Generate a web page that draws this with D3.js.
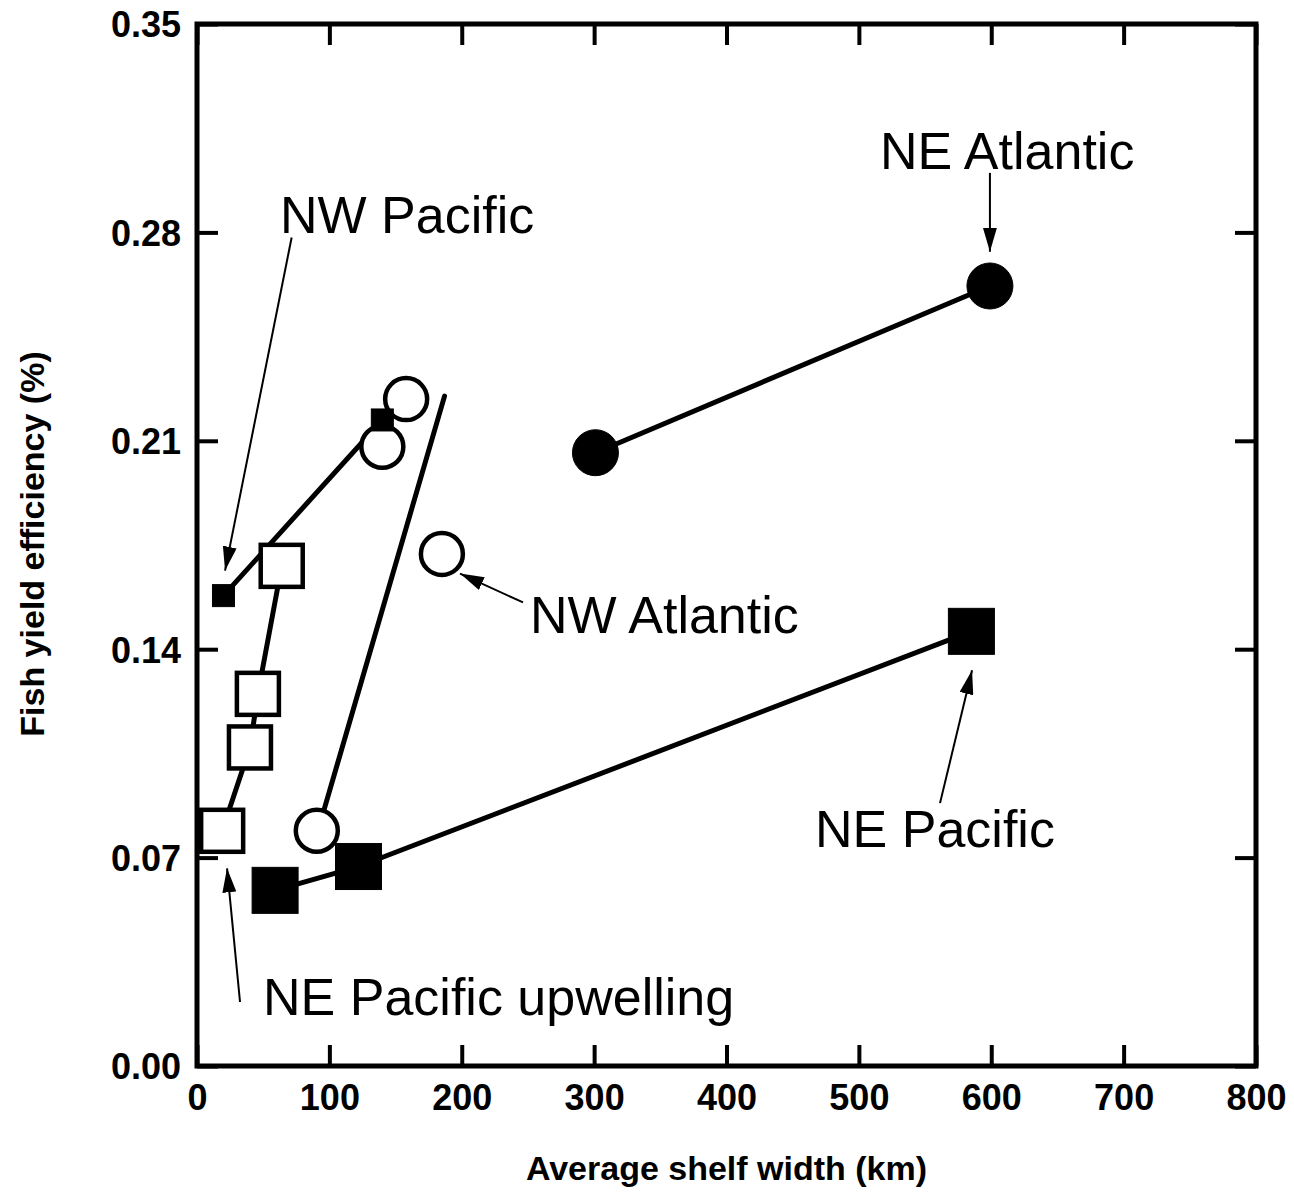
<!DOCTYPE html>
<html>
<head>
<meta charset="utf-8">
<script src="https://cdn.jsdelivr.net/npm/d3@7"></script>
<style>
html,body{margin:0;padding:0;background:#fff;}
svg{display:block;}
text{font-family:"Liberation Sans",Arial,Helvetica,sans-serif;fill:#000;}
</style>
</head>
<body>
<svg id="chart" width="1294" height="1194"></svg>
<script>
// ---- data (shelf width km, fish yield efficiency %) ----
const xTicks = [0,100,200,300,400,500,600,700,800];
const yTicks = [0,0.07,0.14,0.21,0.28,0.35];

const nwPacificX = [20,140];
const nwPacificY = [0.158,0.217];

const nePacUpwellingX = [19,40,46,64];
const nePacUpwellingY = [0.079,0.107,0.125,0.168];

const nwAtlanticX = [90.5,140,158,185];
const nwAtlanticY = [0.079,0.208,0.224,0.172];
const nwAtlanticFitX = [92,187];
const nwAtlanticFitY = [0.080,0.225];

const nePacificX = [59,122,585];
const nePacificY = [0.059,0.067,0.146];

const neAtlanticX = [301,599];
const neAtlanticY = [0.206,0.262];

// annotation labels: text, x, y (baseline), arrow from (x1,y1) to (x2,y2) in data units
const labelText = ["NW Pacific","NE Atlantic","NW Atlantic","NE Pacific","NE Pacific upwelling"];
const labelX = [62.7,516,251.6,466.9,49.9];
const labelY = [0.2799,0.3013,0.1453,0.0735,0.0171];
const arrowX1 = [71.5,599,246.3,561.3,32.5];
const arrowY1 = [0.2783,0.300,0.1557,0.0883,0.0215];
const arrowX2 = [21.2,599,198.7,585.5,22.7];
const arrowY2 = [0.1664,0.2735,0.1654,0.1329,0.0664];

const xTitle = "Average shelf width (km)";
const yTitle = "Fish yield efficiency (%)";

// ---- layout ----
const svg = d3.select("#chart");
const L = 197, R = 1256, T = 24, B = 1066;
const x = d3.scaleLinear().domain([0,800]).range([L,R]);
const y = d3.scaleLinear().domain([0,0.35]).range([B,T]);

const zip = (xs,ys)=>xs.map((v,i)=>[v,ys[i]]);
const line = d3.line().x(d=>x(d[0])).y(d=>y(d[1]));

// arrow marker
svg.append("defs").append("marker")
  .attr("id","ah").attr("markerUnits","userSpaceOnUse")
  .attr("viewBox","0 0 24 14").attr("refX",24).attr("refY",7)
  .attr("markerWidth",24).attr("markerHeight",14).attr("orient","auto")
  .append("path").attr("d","M0,0 L24,7 L0,14 Z").attr("fill","#000");

// axes (inward ticks on all four sides)
const tickW = 4;
const gB = svg.append("g").attr("transform",`translate(0,${B})`)
  .call(d3.axisBottom(x).tickValues(xTicks).tickSizeInner(-21).tickSizeOuter(0).tickPadding(18).tickFormat(d3.format("d")));
const gL = svg.append("g").attr("transform",`translate(${L},0)`)
  .call(d3.axisLeft(y).tickValues(yTicks).tickSizeInner(-21).tickSizeOuter(0).tickPadding(16).tickFormat(d3.format(".2f")));
const gT = svg.append("g").attr("transform",`translate(0,${T})`)
  .call(d3.axisTop(x).tickValues(xTicks).tickSizeInner(-21).tickSizeOuter(0).tickFormat(""));
const gR = svg.append("g").attr("transform",`translate(${R},0)`)
  .call(d3.axisRight(y).tickValues(yTicks).tickSizeInner(-21).tickSizeOuter(0).tickFormat(""));
[gB,gL,gT,gR].forEach(g=>{
  g.select(".domain").remove();
  g.selectAll(".tick line").attr("stroke","#000").attr("stroke-width",tickW);
  g.selectAll(".tick text").attr("font-size",36).attr("font-weight","bold")
    .attr("font-family","'Liberation Sans',Arial,Helvetica,sans-serif").attr("fill","#000");
});
gL.selectAll(".tick text").attr("dy","0.36em");

svg.append("rect").attr("x",L).attr("y",T).attr("width",R-L).attr("height",B-T)
  .attr("fill","none").attr("stroke","#000").attr("stroke-width",5);

// axis titles
svg.append("text").attr("x",(L+R)/2).attr("y",1180).attr("text-anchor","middle")
  .attr("font-size",34).attr("font-weight","bold").text(xTitle);
svg.append("text").attr("transform","translate(44,544) rotate(-90)").attr("text-anchor","middle")
  .attr("font-size",34).attr("font-weight","bold").text(yTitle);

// connecting lines
const lw = 5;
const plot = svg.append("g");
[zip(nwPacificX,nwPacificY), zip(nePacUpwellingX,nePacUpwellingY), zip(nwAtlanticFitX,nwAtlanticFitY),
 zip(nePacificX,nePacificY), zip(neAtlanticX,neAtlanticY)].forEach(d=>{
  plot.append("path").datum(d).attr("d",line).attr("fill","none")
    .attr("stroke","#000").attr("stroke-width",lw).attr("stroke-linecap","round").attr("stroke-linejoin","round");
});

// markers
const sq = (g,data,size,fill,stroke,sw)=>g.selectAll(null).data(data).enter().append("rect")
  .attr("x",d=>x(d[0])-size/2).attr("y",d=>y(d[1])-size/2).attr("width",size).attr("height",size)
  .attr("fill",fill).attr("stroke",stroke).attr("stroke-width",sw);
const ci = (g,data,r,fill,stroke,sw)=>g.selectAll(null).data(data).enter().append("circle")
  .attr("cx",d=>x(d[0])).attr("cy",d=>y(d[1])).attr("r",r)
  .attr("fill",fill).attr("stroke",stroke).attr("stroke-width",sw);

sq(plot.append("g"), zip(nePacUpwellingX,nePacUpwellingY), 42, "#fff", "#000", 4.5);
sq(plot.append("g"), zip(nePacificX,nePacificY), 46, "#000", "#000", 1);
ci(plot.append("g"), zip(nwAtlanticX,nwAtlanticY), 21, "#fff", "#000", 4.5);
ci(plot.append("g"), zip(neAtlanticX,neAtlanticY), 23, "#000", "#000", 1);
sq(plot.append("g"), zip(nwPacificX,nwPacificY), 22, "#000", "#000", 1);

// annotations
const ann = svg.append("g");
labelText.forEach((t,i)=>{
  ann.append("text").attr("x",x(labelX[i])).attr("y",y(labelY[i]))
    .attr("font-size",52).text(t);
  ann.append("line").attr("x1",x(arrowX1[i])).attr("y1",y(arrowY1[i]))
    .attr("x2",x(arrowX2[i])).attr("y2",y(arrowY2[i]))
    .attr("stroke","#000").attr("stroke-width",2).attr("marker-end","url(#ah)");
});
</script>
</body>
</html>
